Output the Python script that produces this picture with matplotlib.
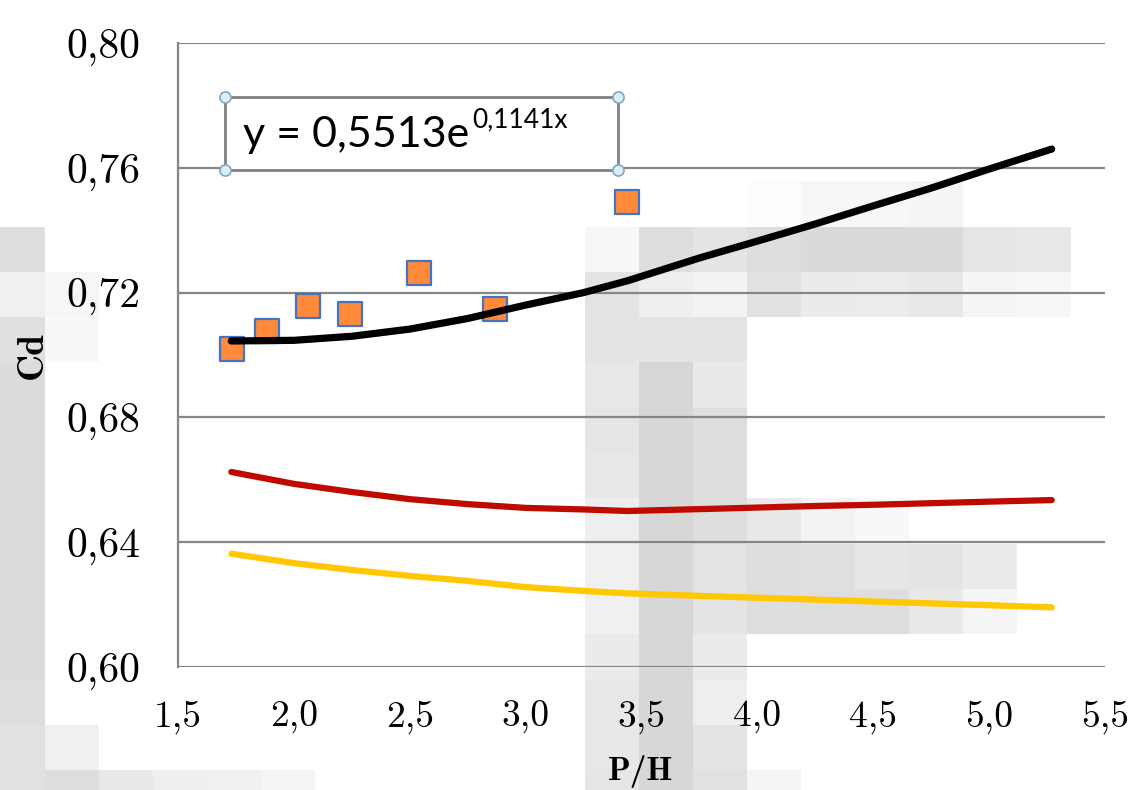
import numpy as np
import matplotlib
matplotlib.use("Agg")
import matplotlib.pyplot as plt
from matplotlib.patches import Rectangle

# measured points (P/H, Cd)
ph_pts = [1.733, 1.884, 2.061, 2.242, 2.540, 2.868, 3.437]
cd_pts = [0.7019, 0.7077, 0.7157, 0.7131, 0.7263, 0.7147, 0.7490]

# curves
ph_curve = [1.73, 2.0, 2.25, 2.5, 2.75, 3.0, 3.25, 3.44, 3.75, 4.0, 4.25, 4.5, 4.75, 5.0, 5.27]
cd_black = [0.7045, 0.7047, 0.7060, 0.7083, 0.7117, 0.7160, 0.7200, 0.7238, 0.7311, 0.7365,
            0.7420, 0.7478, 0.7535, 0.7596, 0.7660]
cd_red = [0.6625, 0.6587, 0.6561, 0.6538, 0.6522, 0.6510, 0.6505, 0.6500, 0.6506, 0.6511,
          0.6516, 0.6520, 0.6525, 0.6530, 0.6535]
cd_yellow = [0.6363, 0.6333, 0.6311, 0.6292, 0.6276, 0.6256, 0.6244, 0.6236, 0.6228, 0.6222,
             0.6216, 0.6210, 0.6204, 0.6198, 0.6191]

x_ticks = [1.5, 2.0, 2.5, 3.0, 3.5, 4.0, 4.5, 5.0, 5.5]
x_labels = ["1,5", "2,0", "2,5", "3,0", "3,5", "4,0", "4,5", "5,0", "5,5"]
y_ticks = [0.60, 0.64, 0.68, 0.72, 0.76, 0.80]
y_labels = ["0,60", "0,64", "0,68", "0,72", "0,76", "0,80"]

equation = "y = 0,5513e"
equation_exp = "0,1141x"

# grey pixel mosaic in the background: row -> {column: grey level}
mosaic = {
    4: {14: 253, 15: 247, 16: 247, 17: 245},
    5: {0: 222, 11: 247, 12: 222, 13: 228, 14: 222, 15: 218, 16: 218, 17: 218, 18: 230, 19: 232},
    6: {0: 240, 1: 246, 11: 228, 12: 238, 13: 243, 14: 225, 15: 235, 16: 236, 17: 232, 18: 245, 19: 247},
    7: {0: 224, 1: 248, 11: 228, 12: 228, 13: 228},
    8: {0: 220, 11: 232, 12: 215, 13: 233},
    9: {0: 220, 11: 230, 12: 215, 13: 222},
    10: {0: 220, 11: 232, 12: 215, 13: 222},
    11: {0: 220, 11: 238, 12: 215, 13: 222, 14: 233, 15: 243, 16: 248},
    12: {0: 220, 11: 240, 12: 215, 13: 227, 14: 222, 15: 223, 16: 230, 17: 228, 18: 235},
    13: {0: 220, 11: 240, 12: 215, 13: 228, 14: 222, 15: 222, 16: 222, 17: 233, 18: 245},
    14: {0: 220, 11: 235, 12: 215, 13: 235},
    15: {0: 222, 11: 232, 12: 215, 13: 238},
    16: {0: 225, 1: 240, 11: 232, 12: 215, 13: 228},
    17: {0: 225, 1: 222, 2: 233, 3: 238, 4: 240, 5: 245, 11: 230, 12: 215, 13: 225, 14: 245},
}

W, H = 1135, 790
fig = plt.figure(figsize=(W / 100, H / 100), dpi=100)

# background mosaic
bg = fig.add_axes([0, 0, 1, 1], zorder=0)
x_edges = np.concatenate([[0], 45 + 54 * np.arange(21), [W]])
y_edges = np.concatenate([45.3 * np.arange(18), [H]])
grey = np.full((len(y_edges) - 1, len(x_edges) - 1), 255.0)
for r, cols in mosaic.items():
    for c, v in cols.items():
        grey[r, c] = v
bg.pcolormesh(x_edges, y_edges, grey, cmap="gray", vmin=0, vmax=255, shading="flat")
bg.set_xlim(0, W)
bg.set_ylim(H, 0)
bg.axis("off")

ax = fig.add_axes([178 / W, 1 - 667 / H, 927 / W, 624 / H], zorder=1)
ax.patch.set_alpha(0)

grid_c = "#868686"
for y in y_ticks:
    ax.axhline(y, color=grid_c, lw=1.6, zorder=1)

ax.scatter(ph_pts, cd_pts, marker="s", s=300, facecolor="#FF8A3A", edgecolor="#4472C4",
           linewidth=1.6, zorder=3)
ax.plot(ph_curve, cd_yellow, color="#FFC800", lw=4.5, solid_capstyle="round", zorder=2)
ax.plot(ph_curve, cd_red, color="#BF0A00", lw=4.5, solid_capstyle="round", zorder=2)
ax.plot(ph_curve, cd_black, color="black", lw=5.2, solid_capstyle="round", zorder=4)

ax.set_xlim(1.5, 5.5)
ax.set_ylim(0.60, 0.80)
for s in ["top", "right", "bottom"]:
    ax.spines[s].set_visible(False)
ax.spines["left"].set_color(grid_c)
ax.spines["left"].set_linewidth(1.6)

ax.set_xticks(x_ticks)
ax.set_xticklabels(x_labels, fontfamily="cmr10", fontsize=27)
ax.set_yticks(y_ticks)
ax.set_yticklabels(y_labels, fontfamily="cmr10", fontsize=30)
ax.tick_params(axis="x", length=0, pad=24)
ax.tick_params(axis="y", length=0, pad=27)

fig.text(32 / W, 1 - 355 / H, "Cd", rotation=90, ha="center", va="center",
         fontfamily="cmb10", fontsize=27)
fig.text(641 / W, 1 - 788 / H, "P/H", ha="center", va="bottom", fontfamily="cmb10", fontsize=24)

# trendline label box
bx0, bx1, by0, by1 = 0.0507, 0.4746, 0.7965, 0.9135
ax.add_patch(Rectangle((bx0, by0), bx1 - bx0, by1 - by0, transform=ax.transAxes,
                       facecolor="white", edgecolor="#808080", lw=2, zorder=6))
ax.plot([bx0, bx1, bx0, bx1], [by0, by0, by1, by1], "o", transform=ax.transAxes,
        ms=8, mfc="#DDEEF6", mec="#7FA6C8", mew=1.2, clip_on=False, zorder=7)
t = ax.text(0.070, 0.853, equation, transform=ax.transAxes, fontsize=31, fontfamily="Lato",
            ha="left", va="center", zorder=8)
ax.annotate(equation_exp, xy=(1.0, 0.9), xycoords=t, xytext=(2, 0), textcoords="offset points",
            fontsize=19, fontfamily="Lato", ha="left", va="center", zorder=8)

fig.savefig("out.png", dpi=100)
